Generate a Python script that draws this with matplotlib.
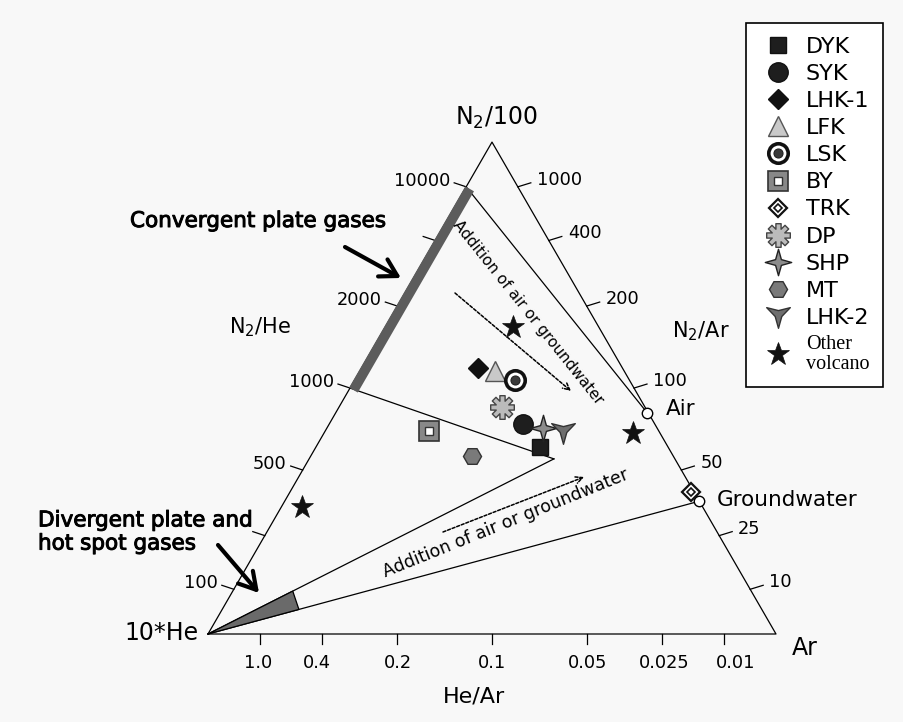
import numpy as np
import matplotlib
matplotlib.use("Agg")
import matplotlib.pyplot as plt
from matplotlib.path import Path
from matplotlib.lines import Line2D
import matplotlib.patheffects as pe

plt.rcParams['font.family'] = ['DejaVu Sans']
plt.rcParams['mathtext.default'] = 'regular'

# ---------------- DATA (ternary components: N2/100, 10*He, Ar; relative %) ----------------
samples = ['DYK', 'SYK', 'LHK-1', 'LFK', 'LSK', 'BY', 'TRK', 'DP', 'SHP', 'MT', 'LHK-2']
n2_100 = [38.0, 42.7, 54.1, 53.5, 51.6, 41.3, 28.8, 46.2, 41.9, 36.2, 41.1]
he_10 = [22.5, 23.2, 25.4, 22.7, 20.1, 40.4, 0.5, 25.2, 20.1, 35.4, 17.0]
ar = [39.5, 34.1, 20.5, 23.8, 28.3, 18.3, 70.7, 28.6, 38.0, 28.4, 41.9]

volcano_n2 = [62.4, 40.9, 25.8]
volcano_he = [15.1, 4.7, 70.5]
volcano_ar = [22.5, 54.4, 3.7]

air = [45.0, 0.2, 54.8]
groundwater = [27.0, 0.0, 73.0]
kink = [35.6, 21.3, 43.1]

n2he_ticks = [100, 250, 500, 1000, 2000, 4000, 10000]
n2he_labels = ['100', '', '500', '1000', '2000', '', '10000']
hear_ticks = [1.0, 0.4, 0.2, 0.1, 0.05, 0.025, 0.01]
hear_labels = ['1.0', '0.4', '0.2', '0.1', '0.05', '0.025', '0.01']
n2ar_ticks = [1000, 400, 200, 100, 50, 25, 10]
n2ar_labels = ['1000', '400', '200', '100', '50', '25', '10']

conv_range = [1000, 10000]       # N2/He range of convergent plate gases
wedge_frac = [0.245, 0.185]      # extent of divergent/hot-spot field along the two mixing lines

# ---------------- helpers ----------------
H = np.sqrt(3) / 2


def tern(a, b, c):
    a = np.asarray(a, float); b = np.asarray(b, float); c = np.asarray(c, float)
    s = a + b + c
    return c / s + a / s / 2, a / s * H


PX = 1 / 568.0


def P(xp, yp):
    return ((xp - 208) * PX, (634 - yp) * PX)


fig = plt.figure(figsize=(9.04, 7.22), dpi=100)
fig.patch.set_facecolor('#f8f8f8')
ax = fig.add_axes([0, 0, 1, 1])
ax.set_xlim(-208 * PX, 696 * PX)
ax.set_ylim(-88 * PX, 634 * PX)
ax.axis('off')

# triangle
tri = np.array([tern(0, 1, 0), tern(1, 0, 0), tern(0, 0, 1), tern(0, 1, 0)])
ax.plot(tri[:, 0], tri[:, 1], color='k', lw=0.9, zorder=2)

# convergent band along the left edge
cb = np.array(tern(conv_range[0] / 100, 10, 0))
ct = np.array(tern(conv_range[1] / 100, 10, 0))
nrm = np.array([H, -0.5])
band = np.array([cb - nrm * 1 * PX, ct - nrm * 1 * PX, ct + nrm * 9 * PX, cb + nrm * 9 * PX])
ax.fill(band[:, 0], band[:, 1], color='#5c5c5c', lw=0, zorder=3)

# mixing lines
he_v = np.array(tern(0, 1, 0))
kp = np.array(tern(*kink))
ap = np.array(tern(*air))
gp = np.array(tern(*groundwater))
for p0, p1 in [(ct, ap), (cb, kp), (he_v, kp), (he_v, gp)]:
    ax.plot([p0[0], p1[0]], [p0[1], p1[1]], color='k', lw=0.9, zorder=2)

# divergent wedge
w1 = he_v + wedge_frac[0] * (kp - he_v)
w2 = he_v + wedge_frac[1] * (gp - he_v)
wedge = np.array([he_v, w1, w2])
ax.fill(wedge[:, 0], wedge[:, 1], facecolor='#6a6a6a', edgecolor='k', lw=0.9, zorder=3)

# ticks
for r, lab in zip(n2he_ticks, n2he_labels):
    x0, y0 = tern(r / 100, 10, 0)
    ax.plot([x0, x0 - 12 * PX], [y0, y0 + 4 * PX], color='k', lw=0.9, zorder=2)
    if lab:
        ax.text(x0 - 16 * PX, y0 + 6 * PX, lab, ha='right', va='center', fontsize=12.8)
hear_off = [-2, -5, 1, 0, 1, 2, 11]
for q, lab, off in zip(hear_ticks, hear_labels, hear_off):
    x0, y0 = tern(0, 10 * q, 1)
    ax.plot([x0, x0], [y0, y0 - 10 * PX], color='k', lw=0.9, zorder=2)
    ax.text(x0 + off * PX, y0 - 29 * PX, lab, ha='center', va='center', fontsize=12.8)
for s, lab in zip(n2ar_ticks, n2ar_labels):
    x0, y0 = tern(s / 100, 0, 1)
    ax.plot([x0, x0 + 13 * PX], [y0, y0 + 4 * PX], color='k', lw=0.9, zorder=2)
    ax.text(x0 + 19 * PX, y0 + 7 * PX, lab, ha='left', va='center', fontsize=12.8)

# axis / corner labels
ax.text(*P(496, 118), 'N$_2$/100', ha='center', va='center', fontsize=17)
ax.text(*P(199, 633), '10*He', ha='right', va='center', fontsize=17)
ax.text(*P(792, 648), 'Ar', ha='left', va='center', fontsize=17)
ax.text(*P(474, 697), 'He/Ar', ha='center', va='center', fontsize=16)
ax.text(*P(260, 327), 'N$_2$/He', ha='center', va='center', fontsize=15)
ax.text(*P(701, 331), 'N$_2$/Ar', ha='center', va='center', fontsize=15)

# air & groundwater
ax.plot(ap[0], ap[1], 'o', ms=7.5, mfc='white', mec='k', mew=1, zorder=6)
ax.plot(gp[0], gp[1], 'o', ms=7.5, mfc='white', mec='k', mew=1, zorder=6)
ax.text(*P(666, 409), 'Air', ha='left', va='center', fontsize=15.5)
ax.text(*P(717, 500), 'Groundwater', ha='left', va='center', fontsize=15.5)

# annotations
bold = [pe.withStroke(linewidth=0.7, foreground='k')]
ax.text(*P(130, 221), 'Convergent plate gases', ha='left', va='center', fontsize=15.5, path_effects=bold)
ax.text(*P(38, 532), 'Divergent plate and\nhot spot gases', ha='left', va='center', fontsize=15.5,
        path_effects=bold, linespacing=1.2)
ax.annotate('', xy=P(401, 278), xytext=P(345, 247),
            arrowprops=dict(arrowstyle='->,head_length=0.6,head_width=0.35', lw=3, color='k',
                            mutation_scale=20, shrinkA=0, shrinkB=0))
ax.annotate('', xy=P(259, 593), xytext=P(218, 545),
            arrowprops=dict(arrowstyle='->,head_length=0.6,head_width=0.35', lw=3, color='k',
                            mutation_scale=20, shrinkA=0, shrinkB=0))

ang1 = np.degrees(np.arctan2(ap[1] - ct[1], ap[0] - ct[0]))
ax.text(*P(528, 312), 'Addition of air or groundwater', rotation=ang1, rotation_mode='anchor',
        ha='center', va='center', fontsize=11)
ax.text(*P(506, 523), 'Addition of air or groundwater', rotation=22, rotation_mode='anchor',
        ha='center', va='center', fontsize=12.5)
ax.annotate('', xy=P(571, 391), xytext=P(455, 293),
            arrowprops=dict(arrowstyle='->', lw=1.1, ls=(0, (2, 1.2)), color='k', mutation_scale=12,
                            shrinkA=0, shrinkB=0))
ax.annotate('', xy=P(584, 477), xytext=P(443, 532),
            arrowprops=dict(arrowstyle='->', lw=1.1, ls=(0, (2, 1.2)), color='k', mutation_scale=12,
                            shrinkA=0, shrinkB=0))


# ---------------- custom markers ----------------
def asterisk_path(n=8, w=0.22):
    v = []
    for k in range(n):
        th = 2 * np.pi * k / n
        d = np.array([np.cos(th), np.sin(th)]); p = np.array([-np.sin(th), np.cos(th)])
        v.append(d - w * p); v.append(d + w * p)
        phi = th + np.pi / n; r = w / np.sin(np.pi / n)
        v.append([r * np.cos(phi), r * np.sin(phi)])
    v.append(v[0])
    return Path(np.array(v), closed=True)


star4 = Path(np.array([[0, 1], [0.22, 0.22], [1, 0], [0.22, -0.22], [0, -1], [-0.22, -0.22], [-1, 0],
                       [-0.22, 0.22], [0, 1]]), closed=True)
tri_down = Path(np.array([[-1, 0.75], [0, 0.5], [1, 0.75], [0.28, 0.0], [0, -1], [-0.28, 0.0], [-1, 0.75]]),
                closed=True)
ast = asterisk_path()

styles = {
    'DYK': [dict(marker='s', ms=12, mfc='#1e1e1e', mec='#111111', mew=1)],
    'SYK': [dict(marker='o', ms=14, mfc='#1e1e1e', mec='#111111', mew=1)],
    'LHK-1': [dict(marker='D', ms=10.5, mfc='#111111', mec='#111111', mew=1)],
    'LFK': [dict(marker='^', ms=15, mfc='#c9c9c9', mec='#555555', mew=1)],
    'LSK': [dict(marker='o', ms=14, mfc='white', mec='#111111', mew=2.6),
            dict(marker='o', ms=6.5, mfc='#3a3a3a', mec='#222222', mew=0.8)],
    'BY': [dict(marker='s', ms=15, mfc='#888888', mec='#333333', mew=1.2),
           dict(marker='s', ms=5.5, mfc='white', mec='#333333', mew=1)],
    'TRK': [dict(marker='D', ms=9, mfc='white', mec='#111111', mew=1.6),
            dict(marker='D', ms=4, mfc='white', mec='#111111', mew=1.2)],
    'DP': [dict(marker=ast, ms=17, mfc='#bbbbbb', mec='#444444', mew=1)],
    'SHP': [dict(marker=star4, ms=19, mfc='#8c8c8c', mec='#222222', mew=1)],
    'MT': [dict(marker='H', ms=13, mfc='#7a7a7a', mec='#333333', mew=1)],
    'LHK-2': [dict(marker=tri_down, ms=17, mfc='#6e6e6e', mec='#333333', mew=1)],
}

xs, ys = tern(n2_100, he_10, ar)
handles = []
for i, name in enumerate(samples):
    hs = []
    for st in styles[name]:
        ax.plot(xs[i], ys[i], ls='none', zorder=7, **st)
        hs.append(Line2D([], [], ls='none', **st))
    handles.append(tuple(hs) if len(hs) > 1 else hs[0])

vx, vy = tern(volcano_n2, volcano_he, volcano_ar)
vst = dict(marker='*', ms=17, mfc='#111111', mec='#111111', mew=0.5)
ax.plot(vx, vy, ls='none', zorder=7, **vst)
handles.append(Line2D([], [], ls='none', **vst))
labels = samples + ['Other\nvolcano']

leg = fig.legend(handles, labels, loc='upper left', bbox_to_anchor=(746 / 904, 1 - 23 / 722),
                 borderaxespad=0, fontsize=16, frameon=True, fancybox=False, edgecolor='k',
                 handlelength=1.62, handletextpad=0.45, labelspacing=0.32, borderpad=0.62,
                 numpoints=1, framealpha=1, facecolor='white')
leg.get_frame().set_linewidth(1.2)
t = leg.get_texts()[-1]
t.set_fontfamily('Liberation Serif')
t.set_fontsize(14.5)
t.set_linespacing(1.05)

fig.savefig('out.png', dpi=100, facecolor=fig.get_facecolor())
